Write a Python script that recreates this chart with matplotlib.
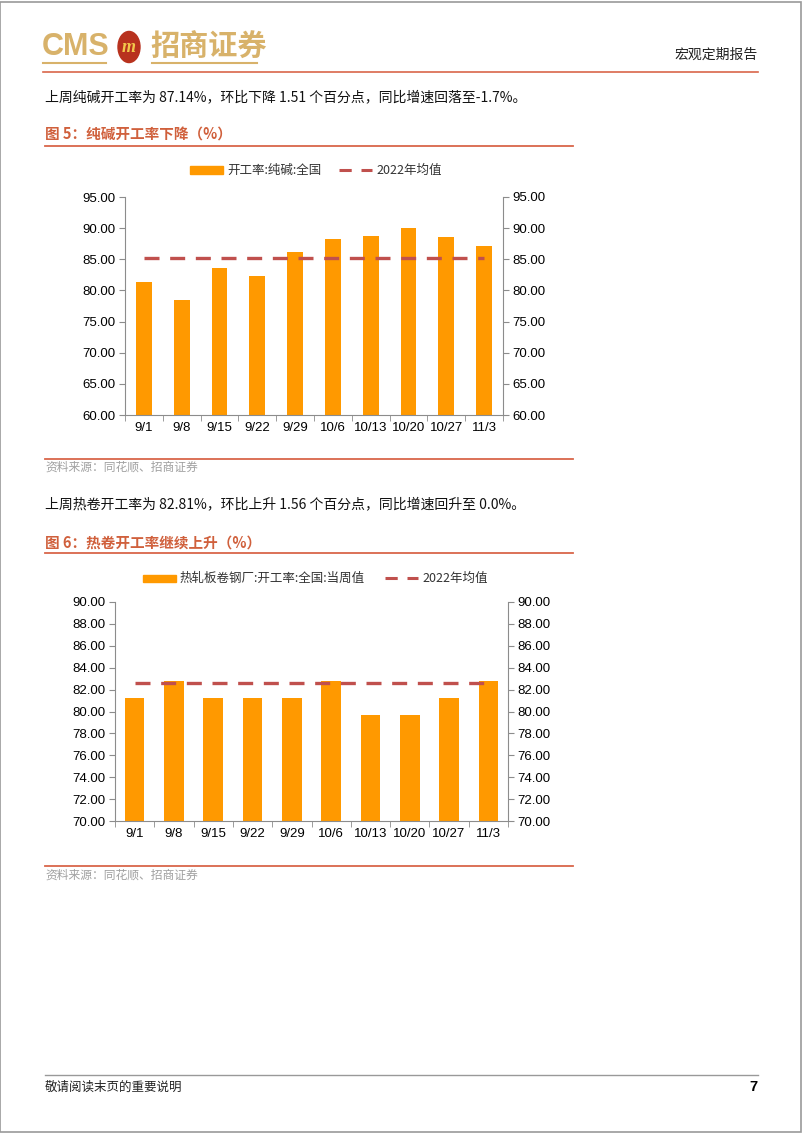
import matplotlib
matplotlib.use("Agg")
import matplotlib.pyplot as plt
from matplotlib.patches import Rectangle, Circle
from matplotlib.lines import Line2D
import numpy as np

plt.rcParams['font.family'] = ['Liberation Sans', 'Noto Sans CJK SC', 'DejaVu Sans']
CJK = ['Noto Sans CJK SC', 'DejaVu Sans']

# data
dates = ['9/1', '9/8', '9/15', '9/22', '9/29', '10/6', '10/13', '10/20', '10/27', '11/3']
soda_rate = [81.3, 78.45, 83.6, 82.3, 86.15, 88.2, 88.8, 90.0, 88.65, 87.14]
soda_mean_2022 = 85.2
hrc_rate = [81.25, 82.81, 81.25, 81.25, 81.25, 82.81, 79.69, 79.69, 81.25, 82.81]
hrc_mean_2022 = 82.62

W, H = 802, 1133
BAR = '#FF9900'
MEAN = '#C0504D'
RED = '#D9664A'
GRAY = '#8C8C8C'
GOLD = '#D8B26A'

fig = plt.figure(figsize=(W / 100, H / 100), dpi=100)


def fx(x):
    return x / W


def fy(y):
    return 1 - y / H


def hline(y, x0, x1, color, lw):
    fig.add_artist(Line2D([fx(x0), fx(x1)], [fy(y), fy(y)], color=color, lw=lw))


# page border
fig.add_artist(Rectangle((0.0005, 0.0005), 0.998, 0.998, fill=False, ec='#9A9A9A', lw=1.2,
                         transform=fig.transFigure))

# header / logo
fig.text(fx(42), fy(47), 'CMS', fontsize=22, fontweight='bold', color=GOLD, va='center',
         family=['Liberation Sans'])
fig.add_artist(Circle((fx(129), fy(47)), 11 / W, color='#B8321E', transform=fig.transFigure))
fig.text(fx(129), fy(47), 'm', fontsize=13, fontweight='bold', style='italic', color='#F2C84B',
         ha='center', va='center', family=['Liberation Serif'])
fig.text(fx(150), fy(47), '招商证券', fontsize=21, fontweight='bold', color=GOLD, va='center',
         family=CJK)
hline(63, 43, 106, GOLD, 1.5)
hline(63, 152, 257, GOLD, 1.5)
fig.text(fx(758), fy(55), '宏观定期报告', fontsize=10, ha='right', va='center', family=CJK,
         color='#222222')
hline(72, 43, 758, RED, 1.2)


def chart(ax_rect, values, mean, ylim, step, bar_w, legend_label, legend_y, legend_x):
    ax = fig.add_axes(ax_rect)
    x = np.arange(len(dates))
    ax.bar(x, values, width=bar_w, color=BAR, zorder=2)
    ax.plot([0, len(dates) - 1], [mean, mean], color=MEAN, lw=2.4, dashes=(4.5, 3.2), zorder=3)
    ax.set_xlim(-0.5, len(dates) - 0.5)
    ax.set_ylim(*ylim)
    ticks = np.arange(ylim[0], ylim[1] + step / 2, step)
    ax.set_yticks(ticks)
    ax.set_yticklabels(['%.2f' % t for t in ticks], fontsize=9.5)
    ax.set_xticks(x)
    ax.set_xticklabels(dates, fontsize=9.5)
    ax.set_xticks(np.arange(-0.5, len(dates)), minor=True)
    ax.tick_params(axis='x', which='major', length=0, pad=5)
    ax.tick_params(axis='x', which='minor', length=4, color=GRAY)
    ax.tick_params(axis='y', length=4, color=GRAY, pad=3)
    for s in ['top', 'right']:
        ax.spines[s].set_visible(False)
    for s in ['left', 'bottom']:
        ax.spines[s].set_color(GRAY)
    ax2 = ax.twinx()
    ax2.set_ylim(*ylim)
    ax2.set_yticks(ticks)
    ax2.set_yticklabels(['%.2f' % t for t in ticks], fontsize=9.5)
    ax2.tick_params(axis='y', length=4, color=GRAY, pad=3)
    for s in ['top', 'left', 'bottom']:
        ax2.spines[s].set_visible(False)
    ax2.spines['right'].set_color(GRAY)

    # legend
    lx0, lx1, tx0, dx0, dx1, tx1 = legend_x
    fig.add_artist(Rectangle((fx(lx0), fy(legend_y + 3.5)), fx(lx1 - lx0), 7 / H, color=BAR,
                             transform=fig.transFigure))
    fig.text(fx(tx0), fy(legend_y), legend_label, fontsize=9, va='center', family=CJK,
             color='#333333')
    fig.add_artist(Line2D([fx(dx0), fx(dx1)], [fy(legend_y), fy(legend_y)], color=MEAN, lw=2.2,
                          dashes=(4, 3.2)))
    fig.text(fx(tx1), fy(legend_y), '2022年均值', fontsize=9, va='center', family=CJK,
             color='#333333')
    return ax


# section 1
fig.text(fx(45), fy(97), '上周纯碱开工率为 87.14%，环比下降 1.51 个百分点，同比增速回落至-1.7%。',
         fontsize=10, va='center', family=CJK, color='#111111')
fig.text(fx(45), fy(135), '图 5：纯碱开工率下降（%）', fontsize=10.5, fontweight='bold', va='center',
         family=CJK, color='#D0603C')
hline(146, 45, 573, RED, 1.3)
chart([fx(125), fy(415), fx(378), 218 / H], soda_rate, soda_mean_2022, (60, 95), 5, 0.42,
      '开工率:纯碱:全国', 170, (190, 223, 227, 339, 372, 376))
hline(459, 45, 573, RED, 1.3)
fig.text(fx(45), fy(467), '资料来源：同花顺、招商证券', fontsize=8.5, va='center', family=CJK,
         color='#A0A0A0')

# section 2
fig.text(fx(45), fy(504), '上周热卷开工率为 82.81%，环比上升 1.56 个百分点，同比增速回升至 0.0%。',
         fontsize=10, va='center', family=CJK, color='#111111')
fig.text(fx(45), fy(543), '图 6：热卷开工率继续上升（%）', fontsize=10.5, fontweight='bold',
         va='center', family=CJK, color='#D0603C')
hline(553, 45, 573, RED, 1.3)
chart([fx(115), fy(821), fx(393), 219 / H], hrc_rate, hrc_mean_2022, (70, 90), 2, 0.5,
      '热轧板卷钢厂:开工率:全国:当周值', 578, (143, 176, 180, 385, 418, 422))
hline(866, 45, 573, RED, 1.3)
fig.text(fx(45), fy(875), '资料来源：同花顺、招商证券', fontsize=8.5, va='center', family=CJK,
         color='#A0A0A0')

# footer
hline(1075, 45, 758, '#999999', 1.0)
fig.text(fx(45), fy(1087), '敬请阅读末页的重要说明', fontsize=9, va='center', family=CJK,
         color='#222222')
fig.text(fx(758), fy(1087), '7', fontsize=10.5, fontweight='bold', ha='right', va='center')

fig.savefig('out.png', dpi=100)
